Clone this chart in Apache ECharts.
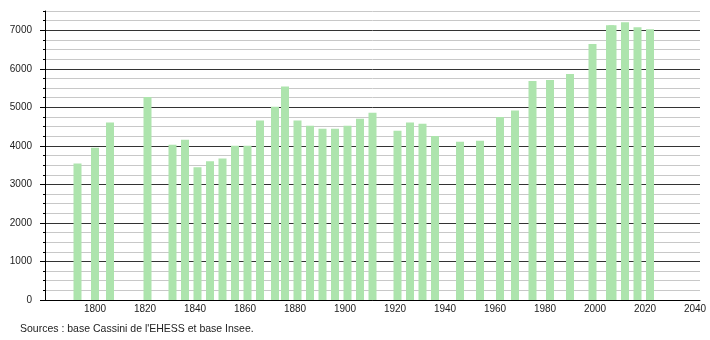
<!DOCTYPE html>
<html>
<head>
<meta charset="utf-8">
<script src="https://cdn.jsdelivr.net/npm/echarts@6/dist/echarts.min.js"></script>
<style>
html,body{margin:0;padding:0;background:#fff;}
#c{width:710px;height:340px;}
</style>
</head>
<body>
<div id="c"></div>
<script>
const years = [1793,1800,1806,1821,1831,1836,1841,1846,1851,1856,1861,1866,1872,1876,1881,1886,1891,1896,1901,1906,1911,1921,1926,1931,1936,1946,1954,1962,1968,1975,1982,1990,1999,2006,2007,2012,2017,2022];
const population = [3540,3953,4607,5271,4031,4160,3445,3600,3669,4005,4005,4659,5013,5538,4659,4522,4444,4444,4522,4703,4858,4393,4607,4574,4255,4109,4134,4746,4918,5685,5711,5866,6641,7132,7132,7209,7080,7028];
const sourceText = "Sources : base Cassini de l'EHESS et base Insee.";

const font = '"Liberation Sans", Arial, sans-serif';
const chart = echarts.init(document.getElementById('c'), null, {renderer:'canvas'});
chart.setOption({
  animation:false,
  backgroundColor:'#fff',
  grid:{left:45, right:10, top:11, bottom:40, containLabel:false},
  xAxis:{
    type:'value', min:1780, max:2042, interval:20,
    axisLine:{show:true, lineStyle:{color:'#000', width:1}},
    axisTick:{show:false},
    splitLine:{show:false},
    axisLabel:{showMinLabel:false, showMaxLabel:false, color:'#222', fontSize:10, fontFamily:font, margin:4,
      formatter:v=>String(v)}
  },
  yAxis:[{
    type:'value', min:0, max:7500, interval:250,
    axisLine:{show:true, lineStyle:{color:'#000', width:1}},
    axisTick:{show:true, length:2, lineStyle:{color:'#000'}},
    axisLabel:{show:false},
    splitLine:{show:true, lineStyle:{color:['#333','#c8c8c8','#c8c8c8','#c8c8c8'], width:1}}
  },{
    type:'value', min:0, max:7500, interval:1000, position:'left',
    axisLine:{show:false},
    axisTick:{show:true, length:5, lineStyle:{color:'#000'}},
    splitLine:{show:false},
    axisLabel:{showMaxLabel:false, color:'#222', fontSize:10, fontFamily:font, margin:13,
      formatter:v=>String(v)}
  }],
  series:[{
    type:'bar',
    barWidth:8,
    itemStyle:{color:'#ade4ad'},
    data: years.map((y,i)=>[y, population[i]])
  }],
  graphic:[{
    type:'text', left:20, top:323.5,
    style:{text:sourceText, fill:'#222', font:'10.5px ' + font}
  }]
});
</script>
</body>
</html>
